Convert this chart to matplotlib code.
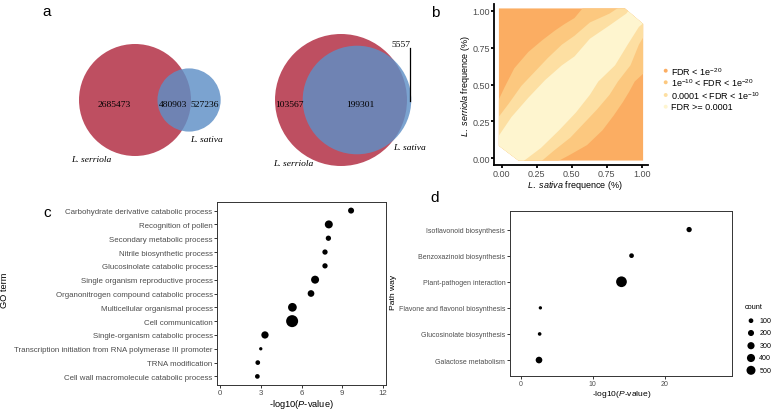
"""
Allele frequency and enrichment summary (L. serriola vs L. sativa)
Venn diagrams, frequency scatter by FDR, GO and pathway dot plots
"""

import numpy as np
import matplotlib
matplotlib.use('Agg')
import matplotlib.pyplot as plt
from matplotlib.patches import Circle, Polygon

plt.rcParams['font.family'] = ['Liberation Sans', 'DejaVu Sans']
plt.rcParams['mathtext.fontset'] = 'custom'
plt.rcParams['mathtext.rm'] = 'Liberation Sans'
plt.rcParams['mathtext.it'] = 'Liberation Sans:italic'
plt.rcParams['mathtext.bf'] = 'Liberation Sans:bold'

W, H = 778, 410

# ---- panel a: variant counts (serriola only, shared, sativa only)
venn_left = [2685473, 480903, 527236]
venn_right = [103567, 199301, 5557]

# ---- panel b: outline of the point cloud and FDR band boundaries (upper-left side)
b_outline_x = [-0.02, 0.88, 1.01, 1.01, 0.12, -0.02]
b_outline_y = [1.015, 1.015, 0.91, -0.015, -0.015, 0.085]
b1_x = [-0.03, 0.02, 0.09, 0.19, 0.29, 0.38, 0.45, 0.52, 0.59]
b1_y = [0.38, 0.48, 0.61, 0.72, 0.80, 0.865, 0.91, 0.95, 1.03]
b2_x = [-0.03, 0.05, 0.14, 0.24, 0.33, 0.43, 0.52, 0.63, 0.77, 0.85]
b2_y = [0.27, 0.37, 0.49, 0.59, 0.68, 0.77, 0.83, 0.92, 0.98, 1.03]
b3_x = [-0.03, 0.07, 0.19, 0.31, 0.43, 0.52, 0.63, 0.77, 0.89, 0.93]
b3_y = [0.14, 0.28, 0.41, 0.53, 0.63, 0.69, 0.81, 0.90, 0.98, 1.03]
fdr_labels = ['FDR < 1e$^{-20}$', '1e$^{-10}$ < FDR < 1e$^{-20}$',
              '0.0001 < FDR < 1e$^{-10}$', 'FDR >= 0.0001']
fdr_colors = ['#FBAD62', '#FCC87F', '#FDDFA2', '#FEF5CF']
freq_ticks = [0.0, 0.25, 0.5, 0.75, 1.0]

# ---- panel c: GO terms (top to bottom)
go_terms = ['Carbohydrate derivative catabolic process', 'Recognition of pollen',
            'Secondary metabolic process', 'Nitrile biosynthetic process',
            'Glucosinolate catabolic process', 'Single organism reproductive process',
            'Organonitrogen compound catabolic process', 'Multicellular organismal process',
            'Cell communication', 'Single-organism catabolic process',
            'Transcription initiation from RNA polymerase III promoter',
            'TRNA modification', 'Cell wall macromolecule catabolic process']
go_logp = [9.65, 8.01, 7.98, 7.73, 7.73, 7.0, 6.7, 5.33, 5.31, 3.31, 3.0, 2.78, 2.75]
go_count = [195, 385, 140, 140, 140, 385, 255, 467, 930, 310, 25, 100, 100]
go_xticks = [0, 3, 6, 9, 12]

# ---- panel d: KEGG pathways (top to bottom)
pathways = ['Isoflavonoid biosynthesis', 'Benzoxazinoid biosynthesis',
            'Plant-pathogen interaction', 'Flavone and flavonol biosynthesis',
            'Glucosinolate biosynthesis', 'Galactose metabolism']
path_logp = [23.4, 15.4, 14.0, 2.73, 2.63, 2.54]
path_count = [140, 100, 730, 25, 40, 250]
path_xticks = [0, 10, 20]
legend_counts = [100, 200, 300, 400, 500]

RED = '#BE4F61'
BLUE = '#5E8FC6'
GREY = '#4D4D4D'


def rect(left, top, right, bottom):
    """Axes rectangle from pixel edges"""
    return [left / W, 1 - bottom / H, (right - left) / W, (bottom - top) / H]


def lens_area(r1, r2, d):
    if d >= r1 + r2:
        return 0.0
    if d <= abs(r1 - r2):
        return np.pi * min(r1, r2) ** 2
    a1 = r1 ** 2 * np.arccos((d ** 2 + r1 ** 2 - r2 ** 2) / (2 * d * r1))
    a2 = r2 ** 2 * np.arccos((d ** 2 + r2 ** 2 - r1 ** 2) / (2 * d * r2))
    a3 = 0.5 * np.sqrt((-d + r1 + r2) * (d + r1 - r2) * (d - r1 + r2) * (d + r1 + r2))
    return a1 + a2 - a3


def venn_geometry(counts, r_a):
    """Radius of second circle and centre distance for area-proportional venn"""
    only_a, shared, only_b = counts
    area_a = only_a + shared
    r_b = r_a * np.sqrt((shared + only_b) / area_a)
    target = shared / area_a * np.pi * r_a ** 2
    lo, hi = abs(r_a - r_b) + 1e-9, r_a + r_b
    for _ in range(80):
        mid = (lo + hi) / 2
        if lens_area(r_a, r_b, mid) > target:
            lo = mid
        else:
            hi = mid
    return r_b, (lo + hi) / 2


def count_to_size(c):
    return (7.4 + 0.147 * np.asarray(c, dtype=float)) / 1.929


fig = plt.figure(figsize=(W / 100, H / 100), dpi=100)

# overlay in pixel coordinates for venn, titles and manual legends
ov = fig.add_axes([0, 0, 1, 1])
ov.set_xlim(0, W)
ov.set_ylim(H, 0)
ov.axis('off')

# ---- panel a
for counts, cx, r_a in [(venn_left, 135, 56), (venn_right, 341, 66)]:
    r_b, d = venn_geometry(counts, r_a)
    ov.add_patch(Circle((cx, 101), r_a, fc=RED, ec='none'))
    ov.add_patch(Circle((cx + d, 101), r_b, fc=BLUE, ec='none', alpha=0.82))

serif = dict(family='Liberation Serif', fontsize=6.8, ha='center', va='center')
ov.text(114, 105, str(venn_left[0]), **serif)
ov.text(172.7, 105, str(venn_left[1]), **serif)
ov.text(205, 105, str(venn_left[2]), **serif)
ov.text(289, 105, str(venn_right[0]), **serif)
ov.text(360.7, 105, str(venn_right[1]), **serif)
ov.text(410, 45, str(venn_right[2]), family='Liberation Serif', fontsize=6.8,
        ha='right', va='center')
ov.plot([409.7, 409.7], [49, 101.7], color='black', lw=0.9)
ital = dict(family='Liberation Serif', style='italic', fontsize=6.8, va='center')
ov.text(71, 160, 'L. serriola', ha='left', **ital)
ov.text(190, 140, 'L. sativa', ha='left', **ital)
ov.text(273, 164, 'L. serriola', ha='left', **ital)
ov.text(393, 148, 'L. sativa', ha='left', **ital)

# ---- panel b
axb = fig.add_axes(rect(494, 5, 648, 166))
outline = Polygon(np.column_stack([b_outline_x, b_outline_y]), closed=True,
                  fc=fdr_colors[0], ec='none')
axb.add_patch(outline)
for bx, by, col in [(b1_x, b1_y, fdr_colors[1]), (b2_x, b2_y, fdr_colors[2]),
                    (b3_x, b3_y, fdr_colors[3])]:
    pts = list(zip(bx, by)) + [(1.3, 1.3)] + list(zip(by, bx))[::-1] + [(-0.3, -0.3)]
    band = Polygon(pts, closed=True, fc=col, ec='none')
    axb.add_patch(band)
    band.set_clip_path(outline)
axb.set_xlim(-0.055, 1.045)
axb.set_ylim(-0.045, 1.045)
axb.set_xticks(freq_ticks)
axb.set_yticks(freq_ticks)
axb.set_xticklabels([f'{t:.2f}' for t in freq_ticks])
axb.set_yticklabels([f'{t:.2f}' for t in freq_ticks])
for s in ['top', 'right']:
    axb.spines[s].set_visible(False)
for s in ['left', 'bottom']:
    axb.spines[s].set_linewidth(1.3)
axb.tick_params(length=2, width=1.3, color='black', labelsize=6.5,
                labelcolor=GREY, pad=1.0)
ov.text(575, 185.5, r'$\it{L.}$ $\it{sativa}$ frequence (%)', fontsize=6.5,
        ha='center', va='center')
ov.text(465.7, 86, r'$\it{L.}$ $\it{serriola}$ frequence (%)', fontsize=6.5,
        ha='center', va='center', rotation=90)

leg_y = [71.7, 83.3, 96, 107.7]
ov.scatter([665.7] * 4, leg_y, s=8, c=fdr_colors, lw=0)
for y, lab in zip(leg_y, fdr_labels):
    ov.text(671, y, lab, fontsize=6.5, ha='left', va='center')

# ---- panel c
axc = fig.add_axes(rect(217.3, 203.3, 385.7, 385.7))
yc = np.arange(len(go_terms), 0, -1)
axc.scatter(go_logp, yc, s=count_to_size(go_count), c='black', lw=0)
axc.set_xlim(-0.2, 12.2)
axc.set_ylim(0.4, len(go_terms) + 0.6)
axc.set_yticks(yc)
axc.set_yticklabels(go_terms)
axc.set_xticks(go_xticks)
for s in axc.spines.values():
    s.set_linewidth(0.7)
    s.set_color('#333333')
axc.tick_params(length=2.2, width=0.7, color='#333333', labelsize=5.7,
                labelcolor=GREY, pad=1.2)
ov.text(301, 405, r'-log10($\it{P}$-value)', fontsize=6.7, ha='center', va='center')
ov.text(5, 290, 'GO term', fontsize=6.7, ha='center', va='center', rotation=90)

# ---- panel d
axd = fig.add_axes(rect(510, 212.3, 732.3, 376.7))
yd = np.arange(len(pathways), 0, -1)
axd.scatter(path_logp, yd, s=count_to_size(path_count), c='black', lw=0)
axd.set_xlim(-1.49, 29.4)
axd.set_ylim(0.4, len(pathways) + 0.7)
axd.set_yticks(yd)
axd.set_yticklabels(pathways)
axd.set_xticks(path_xticks)
for s in axd.spines.values():
    s.set_linewidth(0.7)
    s.set_color('#333333')
axd.tick_params(length=2.2, width=0.7, color='#333333', labelsize=5.0,
                labelcolor=GREY, pad=1.2)
ov.text(621.7, 394.3, r'-log10($\it{P}$-value)', fontsize=6.1, ha='center', va='center')
ov.text(394, 292, 'Path way', fontsize=6.1, ha='center', va='center', rotation=90)

ov.text(745, 307.7, 'count', fontsize=5.3, ha='left', va='center')
cnt_y = [321.7, 334, 346.7, 359, 371.3]
ov.scatter([751] * 5, cnt_y, s=count_to_size(legend_counts), c='black', lw=0)
for y, c in zip(cnt_y, legend_counts):
    ov.text(759.3, y, str(c), fontsize=5.1, ha='left', va='center')

# panel letters
for x, y, lab in [(47, 12, 'a'), (435, 13, 'b'), (47, 213, 'c'), (435, 198, 'd')]:
    ov.text(x, y, lab, fontsize=11, ha='center', va='center')

fig.savefig('out.png', dpi=100)
